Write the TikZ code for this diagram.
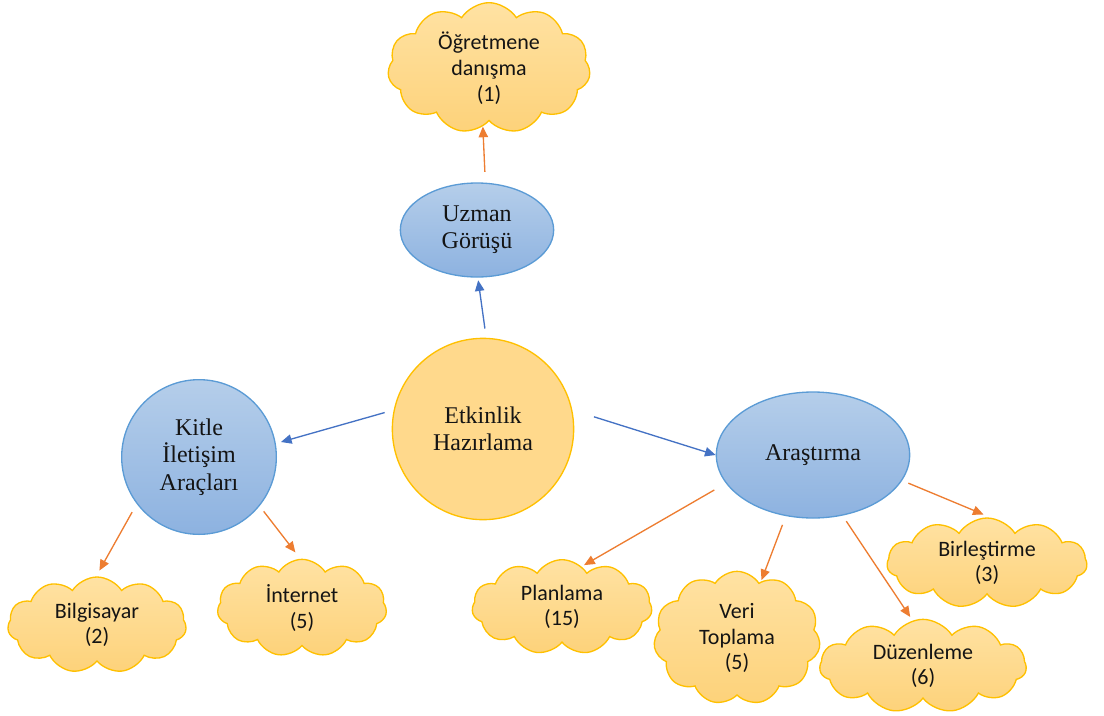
\documentclass[tikz,border=0pt]{standalone}
\usepackage{fontspec}
\setmainfont{Liberation Serif}
\newfontfamily\calib{Carlito}
\usetikzlibrary{shapes.symbols,shapes.geometric,arrows.meta}
\definecolor{bluefillT}{HTML}{B5CEEA}
\definecolor{bluefillB}{HTML}{8DB2E0}
\definecolor{blueborder}{HTML}{5B9BD5}
\definecolor{goldfill}{HTML}{FFD98C}
\definecolor{goldline}{HTML}{FFC000}
\definecolor{cloudT}{HTML}{FFE2A3}
\definecolor{cloudB}{HTML}{FDD27A}
\definecolor{arrblue}{HTML}{4472C4}
\definecolor{arrorange}{HTML}{ED7D31}
\definecolor{textc}{HTML}{141414}
\begin{document}
\begin{tikzpicture}[x=0.75pt,y=-0.75pt,
  blueell/.style={ellipse, draw=blueborder, line width=1pt, top color=bluefillT, bottom color=bluefillB, inner sep=0pt, align=center, text=textc, font=\fontsize{18}{20.5}\selectfont},
  centerc/.style={circle, draw=goldline, line width=1pt, fill=goldfill, inner sep=0pt, align=center, text=textc, font=\fontsize{18}{20.5}\selectfont},
  cloudn/.style={cloud, cloud puffs=11, cloud puff arc=115, cloud ignores aspect, draw=goldline, line width=1pt, top color=cloudT, bottom color=cloudB, inner sep=0pt, align=center, text=textc, font=\calib\fontsize{16.5}{19.3}\selectfont},
  barr/.style={draw=arrblue, line width=1pt, -{Triangle[length=8pt,width=7pt]}},
  oarr/.style={draw=arrorange, line width=1pt, -{Triangle[length=8pt,width=7pt]}}]
\useasboundingbox (0,0) rectangle (1104,715);
% main nodes
\node[centerc, minimum size=136pt] (c) at (483,429) {Etkinlik\\Hazırlama};
\node[blueell, minimum width=115pt, minimum height=70.5pt] (u) at (477,230) {Uzman\\Görüşü};
\node[blueell, circle, minimum size=116pt] (k) at (199,457) {Kitle\\İletişim\\Araçları};
\node[blueell, minimum width=145pt, minimum height=94.5pt] (a) at (813,455) {Araştırma};
% clouds
\node[cloudn, minimum width=152pt, minimum height=98pt] (o) at (489,68) {Öğretmene\\danışma\\(1)};
\node[cloudn, minimum width=134pt, minimum height=72pt] (b) at (97,625) {Bilgisayar\\(2)};
\node[cloudn, minimum width=127pt, minimum height=73pt] (i) at (302,608) {İnternet\\(5)};
\node[cloudn, minimum width=135pt, minimum height=71pt] (p) at (562,607) {Planlama\\(15)};
\node[cloudn, minimum width=125pt, minimum height=100pt] (v) at (737,638) {Veri\\Toplama\\(5)};
\node[cloudn, minimum width=150pt, minimum height=67.5pt] (bi) at (987,563) {Birleştirme\\(3)};
\node[cloudn, minimum width=155pt, minimum height=70pt] (d) at (923,666) {Düzenleme\\(6)};
% connectors
\draw[barr, shorten <=7pt, shorten >=2pt] (c.88) -- (u.271);
\draw[barr, shorten <=7pt, shorten >=4pt] (c.168) -- (k.10);
\draw[barr, shorten <=17pt, shorten >=0pt] (c.12) -- (a.180);
\draw[oarr, shorten <=8pt, shorten >=0pt] (u.80) -- (o.264);
\draw[oarr, shorten <=7pt, shorten >=5pt] (k.217) -- (b.91);
\draw[oarr, shorten <=5pt, shorten >=6pt] (k.-39) -- (i.92);
\draw[oarr, shorten <=10pt, shorten >=2pt] (a.198) -- (p.64);
\draw[oarr, shorten <=7pt, shorten >=1pt] (a.246) -- (v.67);
\draw[oarr, shorten <=5pt, shorten >=3pt] (a.-64) -- (d.103);
\draw[oarr, shorten <=5pt, shorten >=6pt] (a.-16) -- (bi.85);
\end{tikzpicture}
\end{document}
